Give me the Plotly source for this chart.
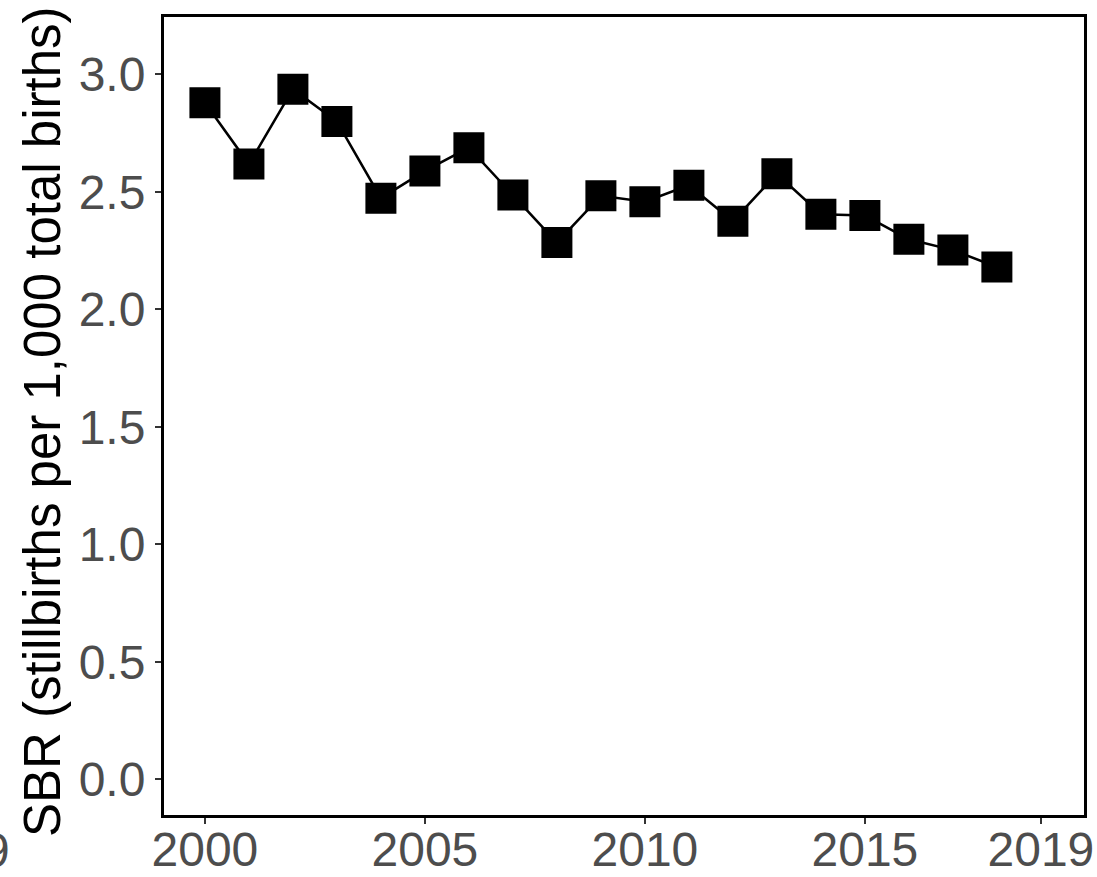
import plotly.graph_objects as go

years = [2000, 2001, 2002, 2003, 2004, 2005, 2006, 2007, 2008, 2009,
         2010, 2011, 2012, 2013, 2014, 2015, 2016, 2017, 2018]
sbr = [2.879, 2.618, 2.937, 2.799, 2.473, 2.589, 2.688, 2.487, 2.284, 2.483,
       2.458, 2.528, 2.375, 2.577, 2.405, 2.399, 2.298, 2.252, 2.180]

x_ticks = [2000, 2005, 2010, 2015, 2019]
y_ticks = [0.0, 0.5, 1.0, 1.5, 2.0, 2.5, 3.0]
y_title = "SBR (stillbirths per 1,000 total births)"

W, H = 1097, 877
L, R, T, B = 164, 13, 17, 62
pw, ph = W - L - R, H - T - B

fig = go.Figure()
fig.add_trace(go.Scatter(
    x=years, y=sbr, mode="lines+markers",
    line=dict(color="black", width=2.5),
    marker=dict(symbol="square", size=29, color="black",
                line=dict(color="black", width=2)),
    showlegend=False, cliponaxis=False,
))

axis_font = dict(family="Liberation Sans, Arial, sans-serif", size=48, color="#4D4D4D")

fig.update_layout(
    width=W, height=H,
    margin=dict(l=L, r=R, t=T, b=B, pad=0, autoexpand=False),
    paper_bgcolor="white", plot_bgcolor="white",
    xaxis=dict(
        range=[1999.07, 2019.98], tickvals=x_ticks,
        ticktext=[str(v) for v in x_ticks],
        showgrid=False, zeroline=False, automargin=False,
        showline=True, mirror=True, linecolor="black", linewidth=3,
        ticks="outside", ticklen=6, tickwidth=2, tickcolor="#333333",
        tickfont=axis_font, ticklabelstandoff=-16,
    ),
    yaxis=dict(
        range=[-0.152, 3.244], tickvals=y_ticks,
        ticktext=[f"{v:.1f}" for v in y_ticks],
        showgrid=False, zeroline=False, automargin=False,
        showline=True, mirror=True, linecolor="black", linewidth=3,
        ticks="outside", ticklen=6, tickwidth=2, tickcolor="#333333",
        tickfont=axis_font,
    ),
    annotations=[
        dict(text=y_title, textangle=-90, xref="paper", yref="paper",
             x=(42 - L) / pw, y=(H - B - 422) / ph, xanchor="center", yanchor="middle",
             showarrow=False,
             font=dict(family="Liberation Sans, Arial, sans-serif", size=51, color="black")),
        dict(text="9", xref="paper", yref="paper",
             x=(12 - L) / pw, y=(H - B - 822) / ph, xanchor="right", yanchor="top",
             showarrow=False, font=axis_font),
    ],
)

fig.write_html(
    "out.html",
    config={"displayModeBar": False},
    post_script="document.body.style.margin='0';document.body.style.padding='0';",
)
